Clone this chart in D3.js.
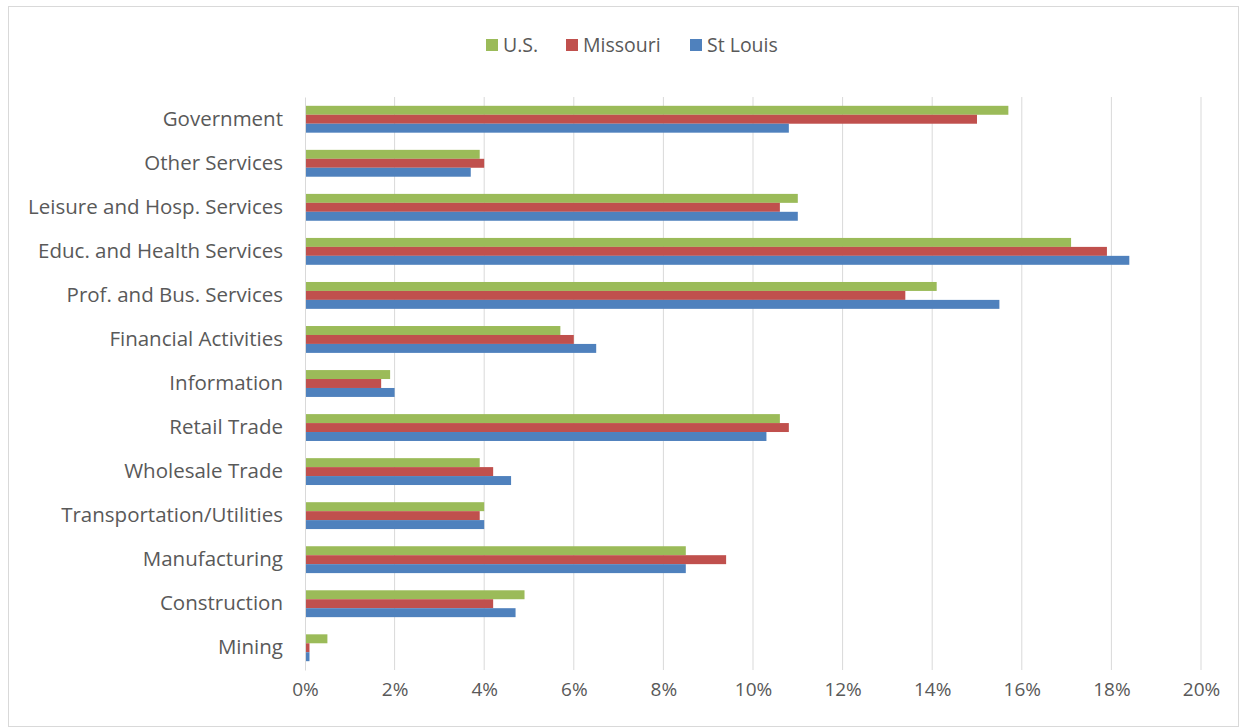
<!DOCTYPE html>
<html><head><meta charset="utf-8">
<script src="https://cdn.jsdelivr.net/npm/d3@7"></script>
<style>body{margin:0;background:#fff;font-family:"Open Sans",sans-serif}</style>
</head><body><svg id="c" width="1247" height="728"></svg>
<script>
const categories=["Government","Other Services","Leisure and Hosp. Services","Educ. and Health Services","Prof. and Bus. Services","Financial Activities","Information","Retail Trade","Wholesale Trade","Transportation/Utilities","Manufacturing","Construction","Mining"];
const series=["U.S.","Missouri","St Louis"];
const us=[15.7,3.9,11.0,17.1,14.1,5.7,1.9,10.6,3.9,4.0,8.5,4.9,0.5];
const mo=[15.0,4.0,10.6,17.9,13.4,6.0,1.7,10.8,4.2,3.9,9.4,4.2,0.1];
const stl=[10.8,3.7,11.0,18.4,15.5,6.5,2.0,10.3,4.6,4.0,8.5,4.7,0.1];
const ticks=[0,2,4,6,8,10,12,14,16,18,20];
const colors=["#9BBB59","#C0504D","#4F81BD"];
const vals=[us,mo,stl];
const F='"Open Sans",sans-serif';
const svg=d3.select("#c");
svg.append("rect").attr("x",8.5).attr("y",6.5).attr("width",1230).attr("height",720).attr("fill","#fff").attr("stroke","#d9d9d9");
const x=d3.scaleLinear().domain([0,20]).range([305,1201]);
const y=d3.scaleBand().domain(categories).range([97,670]).paddingInner(0.39).paddingOuter(0.2);
const ys=d3.scaleBand().domain(series).range([0,y.bandwidth()]);
svg.append("g").selectAll("line").data(ticks.slice(1)).join("line")
 .attr("x1",d=>x(d)).attr("x2",d=>x(d)).attr("y1",97).attr("y2",670).attr("stroke","#d9d9d9");
const g=svg.append("g");
categories.forEach((c,i)=>{
 series.forEach((s,j)=>{
  g.append("rect").attr("x",x(0)).attr("y",y(c)+ys(s)).attr("width",x(vals[j][i])-x(0)).attr("height",ys.bandwidth()).attr("fill",colors[j]);
 });
});
const ax=d3.axisBottom(x).tickValues(ticks).tickFormat(d=>d+"%").tickSize(0);
const axg=svg.append("g").attr("transform","translate(0,670)").call(ax);
axg.select(".domain").remove();
axg.selectAll("text").attr("font-size",19).attr("fill","#595959").attr("dy","1.2em").attr("font-family",F);
const ay=d3.axisLeft(y).tickSize(0).tickPadding(22);
const ayg=svg.append("g").attr("transform","translate(305,0)").call(ay);
ayg.select(".domain").attr("stroke","#d9d9d9");
ayg.selectAll("text").attr("font-size",20.5).attr("fill","#595959").attr("font-family",F);
const lg=svg.append("g");
const lx=[486,566,690];
series.forEach((s,j)=>{
 lg.append("rect").attr("x",lx[j]).attr("y",39).attr("width",12).attr("height",12).attr("fill",colors[j]);
 lg.append("text").attr("x",lx[j]+17).attr("y",52).text(s).attr("font-size",19.5).attr("fill","#595959").attr("font-family",F);
});
</script></body></html>
